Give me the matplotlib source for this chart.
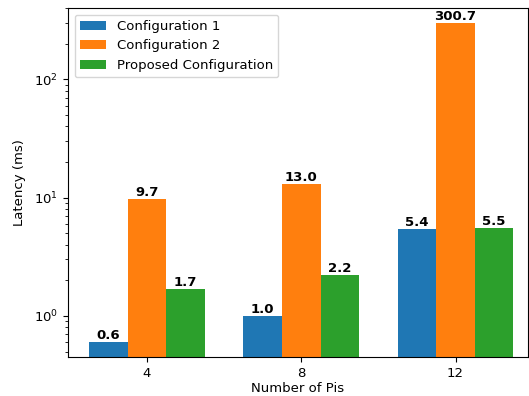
import numpy as np
import matplotlib.pyplot as plt

plt.rcParams['font.size'] = 9.5

# Data
pis = ['4', '8', '12']
config1 = [0.6, 1.0, 5.4]
config2 = [9.7, 13.0, 300.7]
proposed = [1.7, 2.2, 5.5]

x = np.arange(len(pis))
width = 0.25

fig = plt.figure(figsize=(5.29, 3.96), dpi=100)
ax = fig.add_axes([68 / 529, 39 / 396, 460 / 529, 349 / 396])

series = [(config1, 'Configuration 1', -width),
          (config2, 'Configuration 2', 0),
          (proposed, 'Proposed Configuration', width)]

for vals, label, off in series:
    bars = ax.bar(x + off, vals, width, label=label)
    for b, v in zip(bars, vals):
        ax.text(b.get_x() + b.get_width() / 2, v, f"{v:.1f}",
                ha='center', va='bottom', fontweight='bold')

ax.set_yscale('log')
ax.set_ylim(0.45, 400)
ax.set_xlim(-0.5125, 2.47)
ax.set_xticks(x)
ax.set_xticklabels(pis)
ax.set_xlabel("Number of Pis", labelpad=2)
ax.set_ylabel("Latency (ms)", labelpad=6)
ax.legend(loc='upper left')

plt.savefig("out.png")
